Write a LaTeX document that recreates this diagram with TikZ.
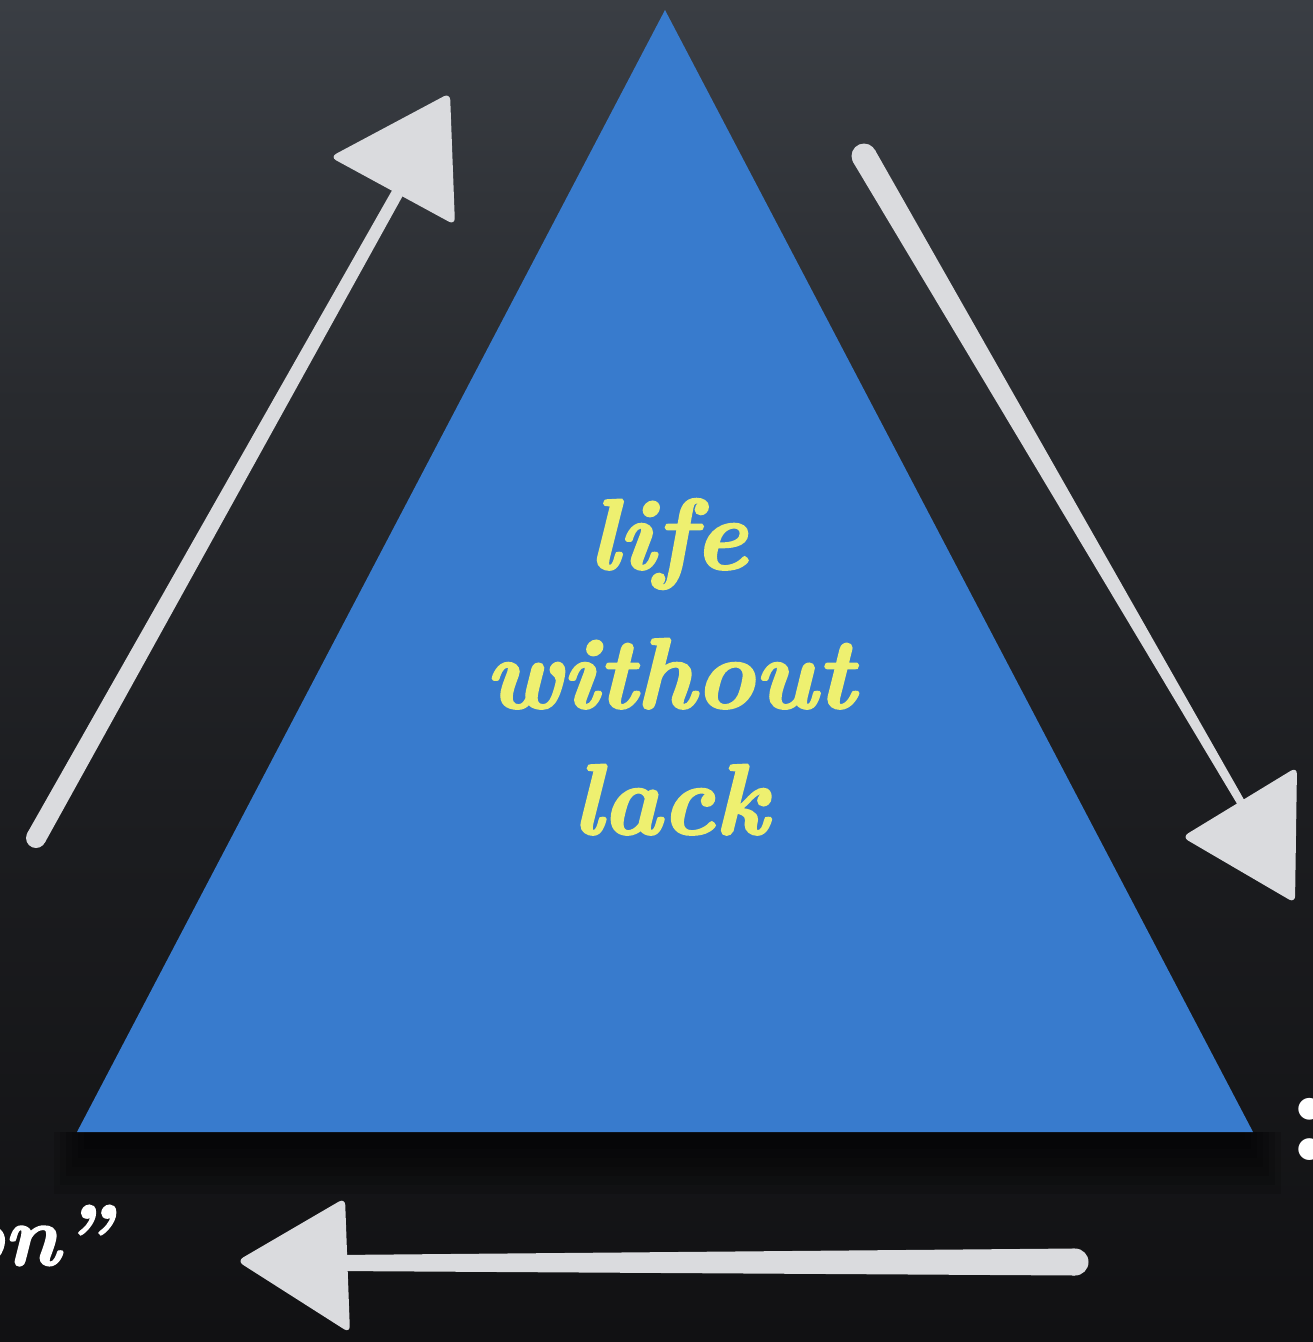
\documentclass[tikz,border=0pt]{standalone}
\usepackage{fontspec}
\newfontfamily\lifefont{lmroman10-bolditalic}[Extension=.otf, FakeBold=2.2]
\newfontfamily\sidefont{lmroman10-bolditalic}[Extension=.otf, FakeBold=2]
\newfontfamily\colonfont{lmroman10-bold}[Extension=.otf]
\usetikzlibrary{calc}
\definecolor{bgtop}{RGB}{58,62,68}
\definecolor{bgmid}{RGB}{40,42,46}
\definecolor{bglow}{RGB}{28,29,32}
\definecolor{bgbot}{RGB}{17,17,19}
\definecolor{triblue}{RGB}{56,123,205}
\definecolor{lifeyellow}{RGB}{238,240,112}
\definecolor{arrowc}{RGB}{218,219,222}
\pgfdeclareverticalshading{bgsh}{100bp}{color(0bp)=(bgbot); color(25bp)=(bgbot); color(45bp)=(bglow); color(60bp)=(bgmid); color(75bp)=(bgtop); color(100bp)=(bgtop)}
\newcommand{\taperedshaft}[4]{%
  \fill[arrowc] ($(#1)!#3!90:(#2)$) -- ($(#2)!#4!-90:(#1)$) -- ($(#2)!#4!90:(#1)$) -- ($(#1)!#3!-90:(#2)$) -- cycle;
  \fill[arrowc] (#1) circle[radius=#3];
}
\tikzset{
  headtri/.style={fill=arrowc, rounded corners=7pt},
  bigtext/.style={text=lifeyellow, anchor=base, font=\fontsize{100}{131}\lifefont},
  sidetext/.style={text=white, font=\fontsize{86}{100}\sidefont},
  shadowlayer/.style={fill=black, opacity=0.14}
}
\begin{document}
\begin{tikzpicture}[x=1pt,y=-1pt]
\useasboundingbox (0,0) rectangle (1313,1342);
\begin{scope}
\clip (0,0) rectangle (1313,1342);
% background
\shade[shading=bgsh] (0,0) rectangle (1313,1342);
% soft shadow under triangle
\foreach \i in {0,...,6} {
  \fill[shadowlayer] (90-\i*6,1132) rectangle (1245+\i*6,1140+\i*9);
}
% triangle
\coordinate (apex) at (665,10);
\coordinate (bl) at (77,1132);
\coordinate (br) at (1253,1132);
\fill[triblue] (apex) -- (br) -- (bl) -- cycle;
% text
\node[bigtext] (t1) at (668,569) {life};
\node[bigtext] (t2) at (670,708) {without};
\node[bigtext] (t3) at (670,834) {lack};
% left arrow
\coordinate (lTail) at (36,838);
\coordinate (lEnd) at (398,192);
\taperedshaft{lTail}{lEnd}{10pt}{6pt}
\fill[headtri] (330,157) -- (450,93) -- (455,225) -- cycle;
% right arrow
\coordinate (rTail) at (864,156);
\coordinate (rEnd) at (1243,806);
\taperedshaft{rTail}{rEnd}{12.5pt}{4pt}
\fill[headtri] (1182,837) -- (1297,767) -- (1295,903) -- cycle;
% bottom arrow
\coordinate (bTail) at (1075,1262);
\coordinate (bEnd) at (335,1263);
\taperedshaft{bTail}{bEnd}{13.5pt}{8pt}
\fill[headtri] (237,1261) -- (345,1198) -- (350,1333) -- cycle;
% cut-off texts
\node[sidetext, anchor=base east] (lefttxt) at (114,1265) {on”};
\node[text=white, anchor=base, font=\fontsize{140}{140}\colonfont] (colon) at (1310,1160) {:};
\end{scope}
\end{tikzpicture}
\end{document}
